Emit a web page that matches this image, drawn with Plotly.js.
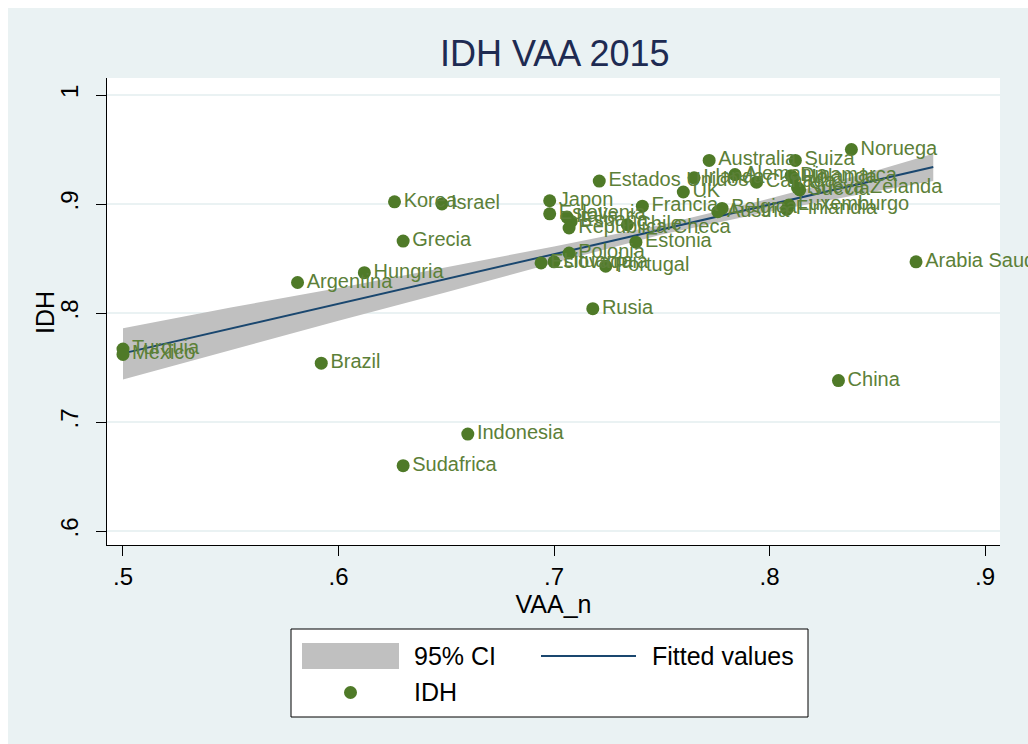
<!DOCTYPE html>
<html><head><meta charset="utf-8">
<script src="https://cdn.plot.ly/plotly-3.0.1.min.js"></script>
<style>
html,body{margin:0;padding:0;background:#ffffff;width:1028px;height:744px;overflow:hidden}
#chart{position:absolute;left:8px;top:8px;width:1020px;height:736px}
</style>
</head><body><div id="chart"></div>
<script>
// ---- data ----
const countries = ["Noruega","Suiza","Australia","Estados Unidos","Irlanda","Alemania","Canada",
  "Holanda","Dinamarca","Suecia","Nueva Zelanda","UK","Francia","Belgica","Austria","Luxemburgo","Finlandia",
  "Korea","Israel","Japon","Eslovenia","Italia","España","Republica Checa","Chile",
  "Grecia","Estonia","Polonia","Lituania","Eslovaquia","Portugal","Hungria","Argentina","Rusia",
  "Arabia Saudita","Turquia","Mexico","Brazil","China","Indonesia","Sudafrica"];
const vaa = [0.838,0.812,0.772,0.721,0.765,0.784,0.794,
  0.811,0.810,0.814,0.813,0.760,0.741,0.778,0.776,0.809,0.808,
  0.626,0.648,0.698,0.698,0.706,0.708,0.707,0.734,
  0.630,0.738,0.707,0.700,0.694,0.724,0.612,0.581,0.718,
  0.868,0.500,0.500,0.592,0.832,0.660,0.630];
const idh = [0.950,0.940,0.940,0.921,0.924,0.927,0.920,
  0.924,0.926,0.913,0.915,0.911,0.898,0.896,0.893,0.899,0.895,
  0.902,0.900,0.903,0.891,0.888,0.884,0.878,0.881,
  0.866,0.865,0.855,0.847,0.846,0.843,0.837,0.828,0.804,
  0.847,0.767,0.762,0.754,0.738,0.689,0.660];

// fitted line and 95% CI
const fitX = [0.5, 0.876];
const fitY = [0.763, 0.934];
const ciX = [0.5, 0.55, 0.6, 0.65, 0.7, 0.75, 0.8, 0.85, 0.876];
const ciUpper = [0.786, 0.805, 0.823, 0.842, 0.861, 0.881, 0.905, 0.931, 0.946];
const ciLower = [0.739, 0.766, 0.793, 0.819, 0.846, 0.872, 0.893, 0.912, 0.921];

const xTicks = [0.5,0.6,0.7,0.8,0.9];
const xTickText = [".5",".6",".7",".8",".9"];
const yTicks = [0.6,0.7,0.8,0.9,1];
const yTickText = [".6",".7",".8",".9","1"];

const FONT = "Liberation Sans, Arial, Helvetica, sans-serif";
const GREEN = "#4f7a28";
const NAVY = "#1a476f";

const traces = [
  {type:"scatter", mode:"lines", name:"95% CI",
   x: ciX.concat(ciX.slice().reverse()),
   y: ciUpper.concat(ciLower.slice().reverse()),
   fill:"toself", fillcolor:"#c0c0c0", line:{width:0, color:"#c0c0c0"}, hoverinfo:"skip"},
  {type:"scatter", mode:"lines", name:"Fitted values", x: fitX, y: fitY,
   line:{color:NAVY, width:2}},
  {type:"scatter", mode:"markers+text", name:"IDH", x: vaa, y: idh, text: countries,
   textposition:"middle right", cliponaxis:false,
   textfont:{family:FONT, size:20, color:"#5c8038"},
   marker:{color:GREEN, size:13}}
];

// plot area in page pixels: x 107..1000, y 78..545
const PX0=107, PW=893, PY1=545, PH=467;
const px = p => (p-PX0)/PW;
const py = p => (PY1-p)/PH;

const shapes = [
  {type:"rect", xref:"paper", yref:"paper", x0:px(291), x1:px(808), y0:py(629), y1:py(717),
   fillcolor:"#ffffff", line:{color:"#000000", width:1}},
  {type:"rect", xref:"paper", yref:"paper", x0:px(302), x1:px(399), y0:py(643), y1:py(669),
   fillcolor:"#c0c0c0", line:{width:0}},
  {type:"line", xref:"paper", yref:"paper", x0:px(541), x1:px(636), y0:py(656), y1:py(656),
   line:{color:NAVY, width:2}},
  {type:"circle", xref:"paper", yref:"paper", x0:px(344), x1:px(357), y0:py(686), y1:py(699),
   fillcolor:GREEN, line:{width:0}}
];
const annotations = [
  {xref:"paper", yref:"paper", x:px(412), y:py(656), text:"95% CI", showarrow:false,
   xanchor:"left", yanchor:"middle", font:{family:FONT, size:25, color:"#000"}},
  {xref:"paper", yref:"paper", x:px(650), y:py(656), text:"Fitted values", showarrow:false,
   xanchor:"left", yanchor:"middle", font:{family:FONT, size:25, color:"#000"}},
  {xref:"paper", yref:"paper", x:px(412), y:py(692), text:"IDH", showarrow:false,
   xanchor:"left", yanchor:"middle", font:{family:FONT, size:25, color:"#000"}},
  {xref:"paper", yref:"paper", x:px(45), y:py(313), text:"IDH", showarrow:false, textangle:-90,
   xanchor:"center", yanchor:"middle", font:{family:FONT, size:25, color:"#000"}},
  {xref:"paper", yref:"paper", x:px(554), y:py(53), text:"IDH VAA 2015", showarrow:false,
   xanchor:"center", yanchor:"middle", font:{family:FONT, size:36, color:"#1e2b52"}}
];

const layout = {
  width:1020, height:736,
  margin:{l:99, r:28, t:70, b:199, pad:0},
  paper_bgcolor:"#eaf2f3", plot_bgcolor:"#ffffff",
  showlegend:false,
  xaxis:{range:[0.49258,0.90696], tickvals:xTicks, ticktext:xTickText, ticks:"outside",
         ticklen:10, tickcolor:"#000", showline:true, linecolor:"#000", linewidth:1.2,
         showgrid:false, zeroline:false, tickfont:{family:FONT, size:24, color:"#000"},
         ticklabelstandoff:0,
         title:{text:"VAA_n", font:{family:FONT, size:25, color:"#000"}, standoff:2}},
  yaxis:{range:[0.5872,1.0156], tickvals:yTicks, ticktext:yTickText, ticks:"outside",
         ticklen:10, tickcolor:"#000", showline:true, linecolor:"#000", linewidth:1.2,
         showgrid:true, gridcolor:"#eaf2f3", gridwidth:1.5, zeroline:false, tickangle:-90,
         tickfont:{family:FONT, size:24, color:"#000"}, ticklabelstandoff:8},
  shapes: shapes, annotations: annotations,
  font:{family:FONT}
};

Plotly.newPlot("chart", traces, layout, {displayModeBar:false, staticPlot:true});
</script>
</body></html>
